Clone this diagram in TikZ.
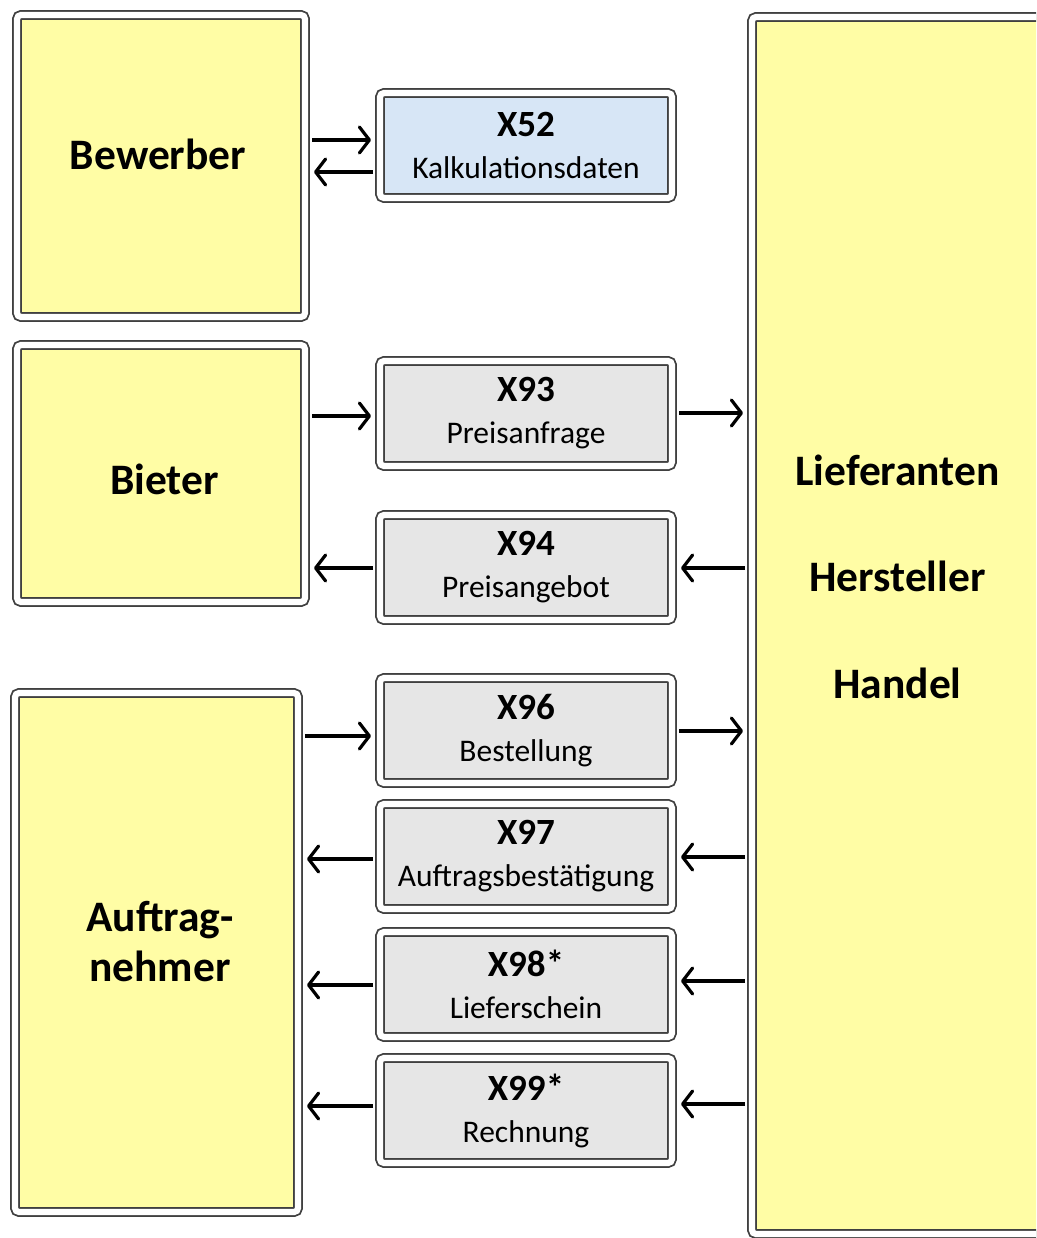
\documentclass[tikz,border=0pt]{standalone}
\usepackage{fontspec}
\setmainfont{Carlito}
\usetikzlibrary{arrows.meta}
\definecolor{boxyellow}{RGB}{255,253,165}
\definecolor{msgblue}{RGB}{215,230,246}
\definecolor{msggray}{RGB}{230,230,230}
\tikzset{
  frame/.style={draw=black!75, line width=1.8pt, double=white, double distance=6.2pt,
    rounded corners=4pt, inner sep=0pt, outer sep=5pt},
  actor/.style={frame, fill=boxyellow},
  msg/.style={frame, fill=msggray, minimum width=292pt, minimum height=105pt,
    align=center, font=\fontsize{31.5}{42}\selectfont},
  big/.style={font=\bfseries\fontsize{43.5}{50}\selectfont, align=center, inner sep=0pt},
  flowarrow/.style={draw=black, line width=3.4pt, shorten <=2pt, shorten >=4pt,
    arrows={-Straight Barb[length=10pt, width=26pt, line width=3.2pt, round]}}
}
\begin{document}
\begin{tikzpicture}[x=1pt,y=-1pt]
\useasboundingbox (0,0) rectangle (1036,1238);
\fill[white] (0,0) rectangle (1036,1238);
\clip (0,0) rectangle (1036,1238);

% actors
\node[actor, minimum width=288pt, minimum height=302pt] (bew) at (161,166) {};
\node[actor, minimum width=288pt, minimum height=257pt] (bie) at (161,473.5) {};
\node[actor, minimum width=283pt, minimum height=519pt] (auf) at (156.5,952.5) {};
\node[actor, minimum width=298pt, minimum height=1217pt] (lief) at (901,625.5) {};

\node[big, anchor=base] (bewT) at (158,170) {Bewerber};
\node[big, anchor=base] (bieT) at (164.5,494) {Bieter};
\node[big] (aufT) at (160,941.5) {Auftrag-\\nehmer};
\node[big, font=\bfseries\fontsize{43.5}{106.5}\selectfont] (liefT) at (897.5,576.5) {Lieferanten\\Hersteller\\Handel};

% messages
\node[msg, fill=msgblue] (x52) at (526,145.5) {{\bfseries\fontsize{37}{42}\selectfont X52}\\Kalkulationsdaten};
\node[msg] (x93) at (526,413.5) {{\bfseries\fontsize{37}{42}\selectfont X93}\\Preisanfrage};
\node[msg] (x94) at (526,567.5) {{\bfseries\fontsize{37}{42}\selectfont X94}\\Preisangebot};
\node[msg] (x96) at (526,730.5) {{\bfseries\fontsize{37}{42}\selectfont X96}\\Bestellung};
\node[msg] (x97) at (526,856.5) {{\bfseries\fontsize{37}{42}\selectfont X97}\\Auftragsbestätigung};
\node[msg] (x98) at (526,984.5) {{\bfseries\fontsize{37}{42}\selectfont X98*}\\Lieferschein};
\node[msg] (x99) at (526,1110.5) {{\bfseries\fontsize{37}{42}\selectfont X99*}\\Rechnung};

% arrows
\path[flowarrow] (bew.east |- 0,140) -- (x52.west |- 0,140);
\path[flowarrow] (x52.west |- 0,172) -- (bew.east |- 0,172);
\path[flowarrow] (bie.east |- 0,416) -- (x93.west |- 0,416);
\path[flowarrow] (x93.east |- 0,413) -- (lief.west |- 0,413);
\path[flowarrow] (x94.west |- 0,568) -- (bie.east |- 0,568);
\path[flowarrow] (lief.west |- 0,568) -- (x94.east |- 0,568);
\path[flowarrow] (auf.east |- 0,736) -- (x96.west |- 0,736);
\path[flowarrow] (x96.east |- 0,731) -- (lief.west |- 0,731);
\path[flowarrow] (x97.west |- 0,859) -- (auf.east |- 0,859);
\path[flowarrow] (lief.west |- 0,857) -- (x97.east |- 0,857);
\path[flowarrow] (x98.west |- 0,985) -- (auf.east |- 0,985);
\path[flowarrow] (lief.west |- 0,981) -- (x98.east |- 0,981);
\path[flowarrow] (x99.west |- 0,1106) -- (auf.east |- 0,1106);
\path[flowarrow] (lief.west |- 0,1104) -- (x99.east |- 0,1104);
\end{tikzpicture}
\end{document}
